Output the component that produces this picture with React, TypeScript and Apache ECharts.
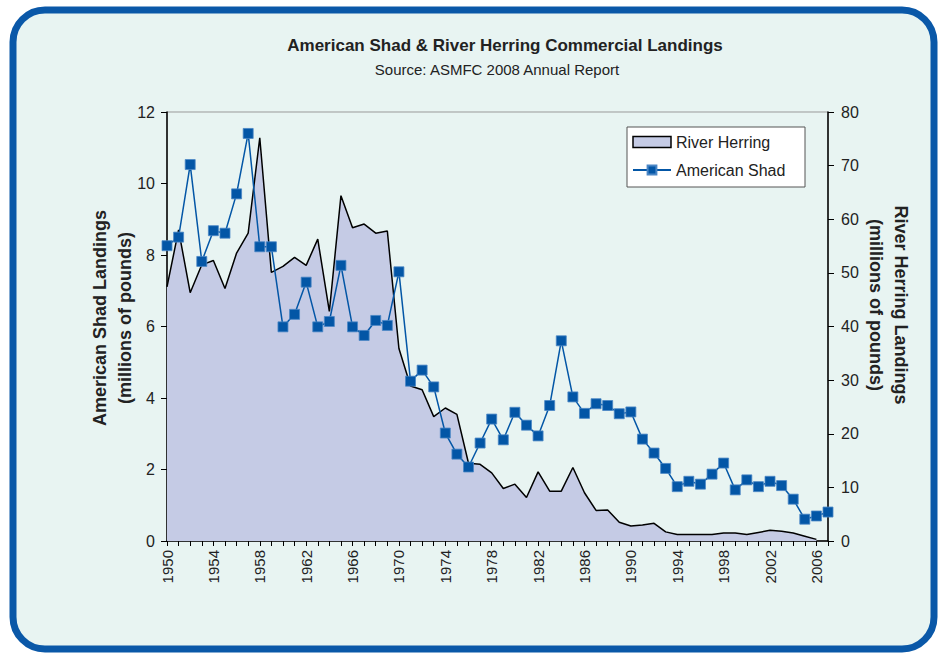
import React, { useEffect, useRef } from "react";
import * as echarts from "echarts";

const years = [
  "1950","1951","1952","1953","1954","1955","1956","1957","1958","1959",
  "1960","1961","1962","1963","1964","1965","1966","1967","1968","1969",
  "1970","1971","1972","1973","1974","1975","1976","1977","1978","1979",
  "1980","1981","1982","1983","1984","1985","1986","1987","1988","1989",
  "1990","1991","1992","1993","1994","1995","1996","1997","1998","1999",
  "2000","2001","2002","2003","2004","2005","2006","2007",
];

// River Herring landings, millions of pounds (right axis)
const riverHerring = [
  47.4, 58.0, 46.3, 51.5, 52.3, 47.1, 53.7, 57.4, 75.2, 50.1,
  51.2, 52.9, 51.4, 56.3, 42.8, 64.4, 58.4, 59.1, 57.4, 57.8,
  35.9, 28.9, 28.2, 23.2, 24.8, 23.6, 14.5, 14.3, 12.7, 9.8,
  10.6, 8.1, 12.9, 9.3, 9.3, 13.7, 9.0, 5.7, 5.8, 3.5,
  2.8, 3.0, 3.3, 1.7, 1.2, 1.2, 1.2, 1.2, 1.5, 1.5,
  1.2, 1.6, 2.0, 1.8, 1.5, 0.9, 0.3, null,
];

// American Shad landings, millions of pounds (left axis)
const americanShad = [
  8.26, 8.5, 10.53, 7.82, 8.68, 8.61, 9.71, 11.4, 8.23, 8.23,
  5.99, 6.34, 7.24, 5.99, 6.14, 7.71, 5.99, 5.75, 6.17, 6.03,
  7.53, 4.47, 4.78, 4.31, 3.02, 2.43, 2.07, 2.74, 3.41, 2.83,
  3.6, 3.24, 2.94, 3.79, 5.6, 4.03, 3.57, 3.84, 3.79, 3.56,
  3.61, 2.85, 2.46, 2.03, 1.52, 1.67, 1.59, 1.87, 2.18, 1.43,
  1.71, 1.52, 1.67, 1.55, 1.17, 0.61, 0.7, 0.81,
];

const leftTicks = { min: 0, max: 12, interval: 2 };
const rightTicks = { min: 0, max: 80, interval: 10 };

const FONT = "'Liberation Sans', Arial, sans-serif";
const TEXT = "#222";
const BLUE = "#0356A6";
const FILL = "#C5CBE5";

export default function App() {
  const ref = useRef<HTMLDivElement>(null);

  useEffect(() => {
    if (!ref.current) return;
    const chart = echarts.init(ref.current, null, { renderer: "svg" });
    chart.setOption({
      animation: false,
      backgroundColor: "#ffffff",
      textStyle: { fontFamily: FONT },
      title: [
        {
          text: "American Shad & River Herring Commercial Landings",
          left: 505,
          top: 37,
          textAlign: "center",
          padding: 0,
          textStyle: { fontFamily: FONT, fontSize: 17, fontWeight: "bold", color: TEXT },
        },
        {
          text: "Source: ASMFC 2008 Annual Report",
          left: 497,
          top: 62,
          textAlign: "center",
          padding: 0,
          textStyle: { fontFamily: FONT, fontSize: 15, fontWeight: "normal", color: TEXT },
        },
      ],
      graphic: [
        {
          type: "rect",
          z: -10,
          silent: true,
          shape: { x: 13, y: 10, width: 921, height: 639, r: 32 },
          style: { fill: "#E8F4F2", stroke: "#0A58A8", lineWidth: 7 },
        },
        {
          type: "rect",
          z: 5,
          silent: true,
          shape: { x: 627, y: 127, width: 178, height: 60 },
          style: { fill: "#ffffff", stroke: "#555", lineWidth: 1 },
        },
        {
          type: "text",
          x: 112,
          y: 318,
          rotation: Math.PI / 2,
          style: {
            text: "American Shad Landings\n(millions of pounds)",
            textAlign: "center",
            textVerticalAlign: "middle",
            fontFamily: FONT,
            fontSize: 18,
            fontWeight: "bold",
            lineHeight: 25,
            fill: TEXT,
          },
        },
        {
          type: "text",
          x: 888,
          y: 305,
          rotation: -Math.PI / 2,
          style: {
            text: "River Herring Landings\n(millions of pounds)",
            textAlign: "center",
            textVerticalAlign: "middle",
            fontFamily: FONT,
            fontSize: 18,
            fontWeight: "bold",
            lineHeight: 25,
            fill: TEXT,
          },
        },
      ],
      legend: {
        orient: "vertical",
        left: 632,
        top: 134,
        padding: 0,
        itemGap: 12,
        itemWidth: 38,
        itemHeight: 11,
        z: 10,
        textStyle: { fontFamily: FONT, fontSize: 16, color: TEXT },
        data: [
          {
            name: "River Herring",
            icon: "rect",
            itemStyle: { color: FILL, borderColor: "#000", borderWidth: 1.5 },
          },
          { name: "American Shad" },
        ],
      },
      grid: {
        left: 167,
        right: 112,
        top: 112,
        bottom: 113,
        show: true,
        borderColor: "#999",
        borderWidth: 1,
        backgroundColor: "transparent",
      },
      xAxis: {
        type: "category",
        data: years,
        boundaryGap: false,
        axisLine: { lineStyle: { color: "#000", width: 1.5 } },
        axisTick: { show: true, interval: 0, length: 5, lineStyle: { color: "#000" } },
        axisLabel: {
          interval: 3,
          rotate: 90,
          fontSize: 15,
          color: TEXT,
          margin: 9,
          fontFamily: FONT,
        },
        splitLine: { show: false },
      },
      yAxis: [
        {
          type: "value",
          ...leftTicks,
          position: "left",
          axisLine: { show: true, lineStyle: { color: "#000", width: 1.5 } },
          axisTick: { show: true, length: 6, lineStyle: { color: "#000" } },
          axisLabel: { fontSize: 16, color: TEXT, margin: 12, fontFamily: FONT },
          splitLine: { show: false },
        },
        {
          type: "value",
          ...rightTicks,
          position: "right",
          axisLine: { show: true, lineStyle: { color: "#000", width: 1.5 } },
          axisTick: { show: true, length: 6, lineStyle: { color: "#000" } },
          axisLabel: { fontSize: 16, color: TEXT, margin: 13, fontFamily: FONT },
          splitLine: { show: false },
        },
      ],
      series: [
        {
          name: "River Herring",
          type: "line",
          yAxisIndex: 1,
          data: riverHerring,
          symbol: "none",
          z: 2,
          itemStyle: { color: "#000" },
          lineStyle: { color: "#000", width: 1.5 },
          areaStyle: { color: FILL, opacity: 1 },
        },
        {
          name: "American Shad",
          type: "line",
          yAxisIndex: 0,
          data: americanShad,
          symbol: "rect",
          symbolSize: 10,
          showAllSymbol: true,
          z: 3,
          itemStyle: { color: BLUE, borderColor: "#4A86C5", borderWidth: 0.8 },
          lineStyle: { color: BLUE, width: 1.5 },
        },
      ],
    });
    return () => chart.dispose();
  }, []);

  return (
    <div
      ref={ref}
      style={{ position: "fixed", left: 0, top: 0, width: 940, height: 654 }}
    />
  );
}
